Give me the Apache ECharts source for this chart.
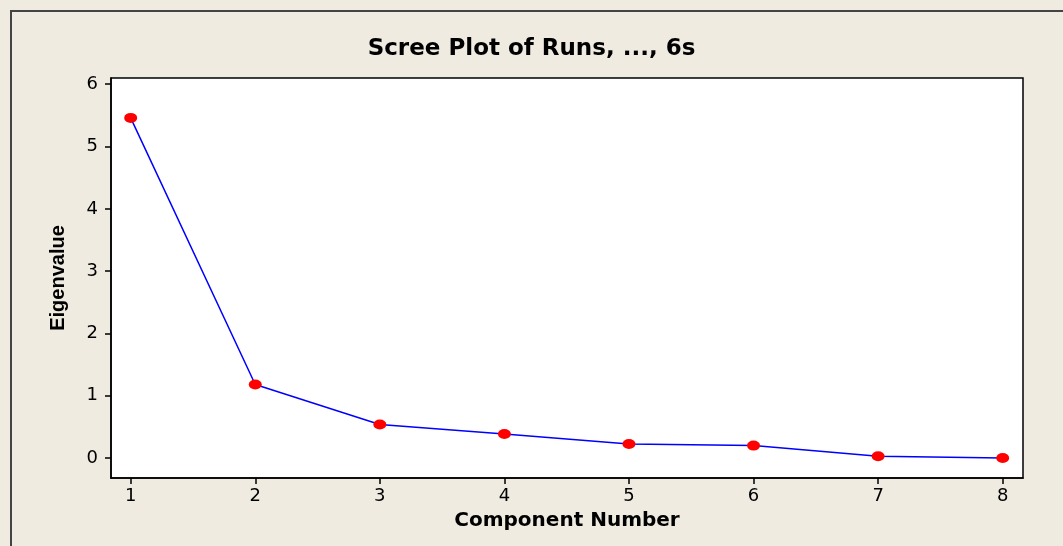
<!DOCTYPE html>
<html>
<head>
<meta charset="utf-8">
<script src="https://cdn.jsdelivr.net/npm/echarts@6/dist/echarts.min.js"></script>
<style>
html,body{margin:0;padding:0;background:#EFEBE1;}
#c{width:1063px;height:546px;}
</style>
</head>
<body>
<div id="c"></div>
<script>
const components = [1, 2, 3, 4, 5, 6, 7, 8];
const eigenvalues = [5.46, 1.18, 0.54, 0.385, 0.225, 0.20, 0.03, 0.0];
const yTicks = [0, 1, 2, 3, 4, 5, 6];

const chart = echarts.init(document.getElementById('c'), null, {renderer: 'canvas'});
const font = 'DejaVu Sans, Verdana, sans-serif';
chart.setOption({
  backgroundColor: '#EFEBE1',
  animation: false,
  title: {
    text: 'Scree Plot of Runs, ..., 6s',
    left: 'center',
    top: 33,
    textStyle: {fontFamily: font, fontWeight: 'bold', fontSize: 23, color: '#000'}
  },
  graphic: [{
    type: 'rect',
    shape: {x: 11, y: 11, width: 1100, height: 600},
    style: {fill: null, stroke: '#444', lineWidth: 2},
    silent: true
  }],
  grid: {
    left: 111, top: 78, width: 912, height: 400,
    show: true, backgroundColor: '#fff', borderColor: '#000', borderWidth: 1.5
  },
  xAxis: {
    type: 'value', min: 0.842, max: 8.163,
    name: 'Component Number', nameLocation: 'middle', nameGap: 33,
    nameTextStyle: {fontFamily: font, fontWeight: 'bold', fontSize: 20, color: '#000'},
    axisLine: {show: true, onZero: false, lineStyle: {color: '#000', width: 1.5}},
    axisTick: {show: true, length: 6, customValues: components, lineStyle: {color: '#000', width: 1.5}},
    axisLabel: {customValues: components, fontFamily: font, fontSize: 18, color: '#000', margin: 9},
    splitLine: {show: false}
  },
  yAxis: {
    type: 'value', min: -0.32, max: 6.1,
    name: 'Eigenvalue', nameLocation: 'middle', nameGap: 43, nameRotate: 90,
    nameTextStyle: {fontFamily: '"Liberation Sans", Arial, sans-serif', fontWeight: 'bold', fontSize: 20, color: '#000'},
    axisLine: {show: true, onZero: false, lineStyle: {color: '#000', width: 1.5}},
    axisTick: {show: true, length: 6, customValues: yTicks, lineStyle: {color: '#000', width: 1.5}},
    axisLabel: {customValues: yTicks, fontFamily: font, fontSize: 18, color: '#000', margin: 13},
    splitLine: {show: false}
  },
  series: [{
    type: 'line',
    data: components.map((c, i) => [c, eigenvalues[i]]),
    lineStyle: {color: '#0000FF', width: 1.5},
    symbol: 'circle',
    symbolSize: [13, 10],
    itemStyle: {color: '#FF0000', borderWidth: 0},
    showSymbol: true
  }]
});
</script>
</body>
</html>
